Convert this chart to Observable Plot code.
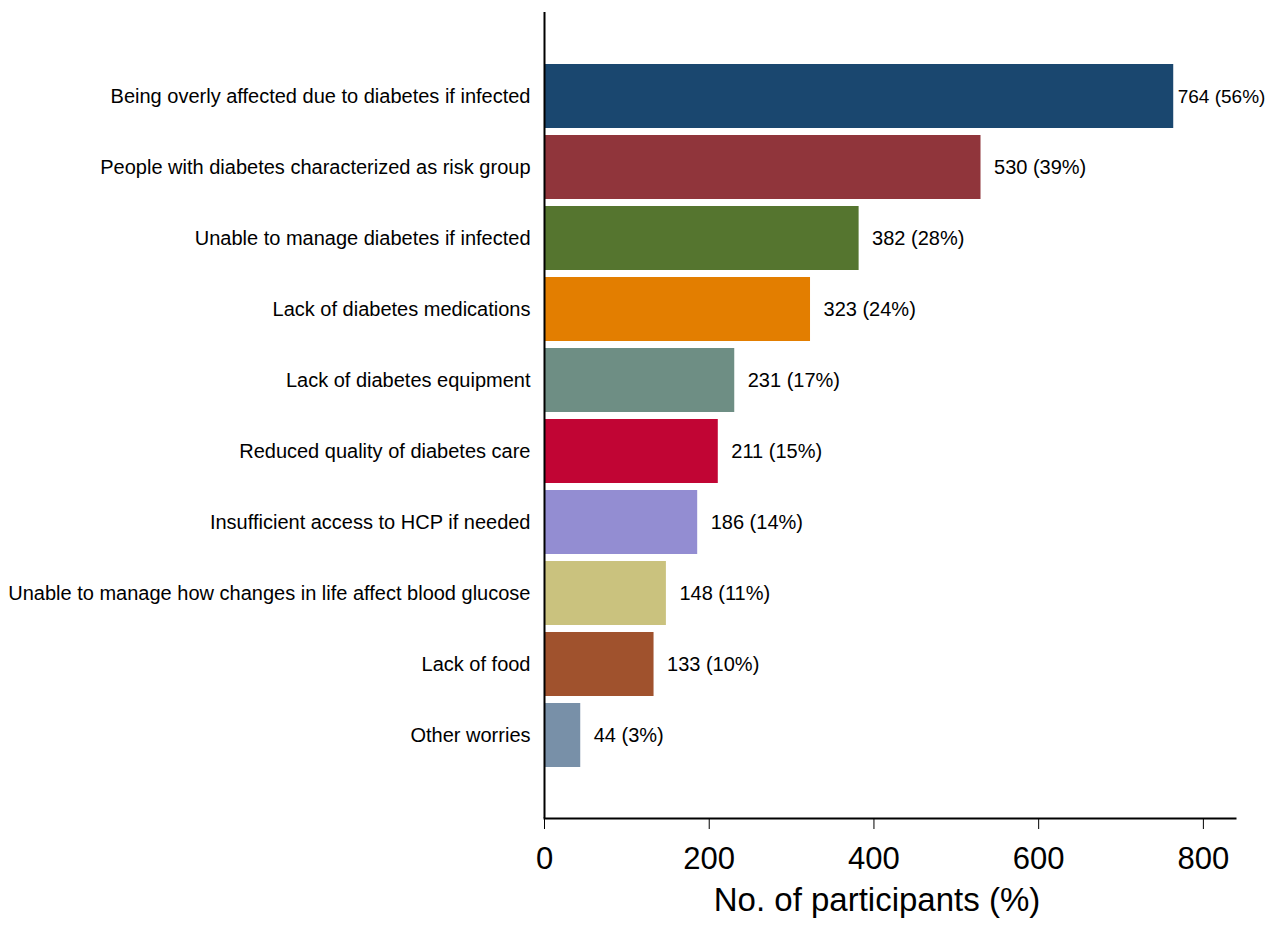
<!DOCTYPE html>
<html>
<head>
<meta charset="utf-8">
<script src="https://cdn.jsdelivr.net/npm/d3@7"></script>
<script src="https://cdn.jsdelivr.net/npm/@observablehq/plot@0.6"></script>
<style>
  html, body { margin: 0; padding: 0; background: #fff; }
  svg { font-family: "Liberation Sans", Arial, sans-serif; overflow: visible; }
</style>
</head>
<body>
<div id="chart"></div>
<script>
const categories = [
  "Being overly affected due to diabetes if infected",
  "People with diabetes characterized as risk group",
  "Unable to manage diabetes if infected",
  "Lack of diabetes medications",
  "Lack of diabetes equipment",
  "Reduced quality of diabetes care",
  "Insufficient access to HCP if needed",
  "Unable to manage how changes in life affect blood glucose",
  "Lack of food",
  "Other worries"
];
const counts = [764, 530, 382, 323, 231, 211, 186, 148, 133, 44];
const percents = [56, 39, 28, 24, 17, 15, 14, 11, 10, 3];
const colors = ["#1a476f", "#90353b", "#55752f", "#e37e00", "#6e8e84",
                "#c10534", "#938dd2", "#cac27e", "#a0522d", "#7890a8"];
const xTicks = [0, 200, 400, 600, 800];
const xTitle = "No. of participants (%)";

const data = categories.map((c, i) => ({
  category: c, count: counts[i], pct: percents[i], color: colors[i],
  label: `${counts[i]} (${percents[i]}%)`, first: i === 0
}));

const chart = Plot.plot({
  width: 1269,
  height: 927,
  marginLeft: 544,
  marginRight: 34,
  marginTop: 12,
  marginBottom: 109,
  x: { domain: [0, 839] },
  y: { domain: categories, paddingInner: 0.1, paddingOuter: 0.68 },
  marks: [
    Plot.barX(data, { y: "category", x: "count", fill: "color" }),
    Plot.text(data.filter(d => d.first), { y: "category", x: "count", text: "label", textAnchor: "start", dx: 4,
      fontSize: 19, fill: "#000" }),
    Plot.text(data.filter(d => !d.first), { y: "category", x: "count", text: "label", textAnchor: "start", dx: 13,
      fontSize: 20, fill: "#000" }),
    Plot.axisY({ tickSize: 0, tickPadding: 14, fontSize: 20, label: null, color: "#000" }),
    Plot.axisX({ ticks: xTicks, tickSize: 11, tickPadding: 17, fontSize: 31, label: null,
      tickFormat: d => String(d), color: "#000" }),
    Plot.ruleX([0], { stroke: "#000", strokeWidth: 2 }),
    Plot.frame({ anchor: "bottom", stroke: "#000", strokeWidth: 2 }),
    Plot.text([xTitle], { frameAnchor: "bottom", dy: 92, dx: -13, fontSize: 33, fill: "#000" })
  ]
});
document.getElementById("chart").appendChild(chart);
</script>
</body>
</html>
